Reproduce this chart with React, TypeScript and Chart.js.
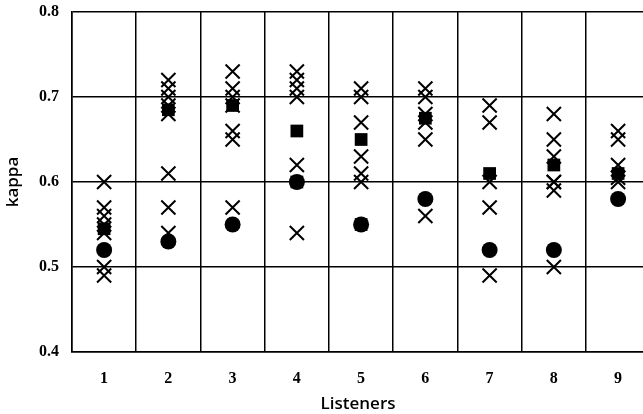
import React, { useEffect, useRef } from "react";
import { Chart, registerables } from "chart.js";

Chart.register(...registerables);

const listeners = [1, 2, 3, 4, 5, 6, 7, 8, 9];
const xTickLabels = ["1", "2", "3", "4", "5", "6", "7", "8", "9"];
const yTicks = [0.4, 0.5, 0.6, 0.7, 0.8];

const crossValues: number[][] = [
  [0.6, 0.57, 0.56, 0.55, 0.54, 0.5, 0.49],
  [0.72, 0.71, 0.7, 0.69, 0.68, 0.61, 0.57, 0.54],
  [0.73, 0.71, 0.7, 0.69, 0.66, 0.65, 0.57],
  [0.73, 0.72, 0.71, 0.7, 0.62, 0.54],
  [0.71, 0.7, 0.67, 0.63, 0.61, 0.6],
  [0.71, 0.7, 0.68, 0.67, 0.65, 0.56],
  [0.69, 0.67, 0.6, 0.57, 0.49],
  [0.68, 0.65, 0.63, 0.6, 0.6, 0.59, 0.5],
  [0.66, 0.65, 0.62, 0.605, 0.6],
];

const squareValues: number[][] = [
  [0.545],
  [0.685],
  [0.69],
  [0.66, 0.6],
  [0.65, 0.55],
  [0.675],
  [0.61],
  [0.62],
  [0.61],
];

const circleValues: number[] = [0.52, 0.53, 0.55, 0.6, 0.55, 0.58, 0.52, 0.52, 0.58];

function toPoints(vals: number[][]) {
  const out: { x: number; y: number }[] = [];
  vals.forEach((arr, i) => arr.forEach((v) => out.push({ x: listeners[i], y: v })));
  return out;
}

export default function App() {
  const ref = useRef<HTMLCanvasElement>(null);
  useEffect(() => {
    document.body.style.margin = "0";
    document.body.style.overflow = "hidden";
    const ctx = ref.current!;
    const chart = new Chart(ctx, {
      type: "scatter",
      data: {
        datasets: [
          {
            label: "circles",
            data: circleValues.map((v, i) => ({ x: listeners[i], y: v })),
            pointStyle: "circle",
            pointRadius: 8,
            backgroundColor: "#000",
            borderColor: "#000",
            borderWidth: 0,
          },
          {
            label: "squares",
            data: toPoints(squareValues),
            pointStyle: "rect",
            pointRadius: 9,
            backgroundColor: "#000",
            borderColor: "#000",
            borderWidth: 0,
          },
          {
            label: "crosses",
            data: toPoints(crossValues),
            pointStyle: "crossRot",
            pointRadius: 10,
            borderColor: "#000",
            backgroundColor: "#000",
            borderWidth: 2,
          },
        ],
      },
      options: {
        animation: false,
        responsive: false,
        maintainAspectRatio: false,
        layout: { padding: 0 },
        plugins: { legend: { display: false }, tooltip: { enabled: false } },
        scales: {
          x: {
            type: "linear",
            min: 0.5,
            max: 9.403,
            afterBuildTicks: (scale: any) => {
              scale.ticks = listeners.map((l) => ({ value: l - 0.5 }));
            },
            afterFit: (scale: any) => {
              scale.height = 62;
              scale.paddingLeft = 0;
              scale.paddingRight = 0;
            },
            grid: { color: "#000", lineWidth: 1.5, drawTicks: false },
            border: { color: "#000", width: 1.5 },
            ticks: {
              autoSkip: false,
              maxRotation: 0,
              padding: 17,
              labelOffset: 32.1,
              color: "#000",
              font: { family: "'Liberation Serif'", size: 16, weight: "bold" },
              callback: (_v: any, i: number) => xTickLabels[i],
            },
            title: {
              display: true,
              text: "Listeners",
              color: "#000",
              font: { family: "'Open Sans'", size: 17, weight: "600" },
              padding: { top: 0, bottom: 0 },
            },
          },
          y: {
            type: "linear",
            min: 0.4,
            max: 0.8,
            afterBuildTicks: (scale: any) => {
              scale.ticks = yTicks.map((v) => ({ value: v }));
            },
            afterFit: (scale: any) => {
              scale.width = 72;
              scale.paddingTop = 11;
              scale.paddingBottom = 0;
            },
            grid: { color: "#000", lineWidth: 1.5, drawTicks: false },
            border: { color: "#000", width: 1.5 },
            ticks: {
              padding: 13,
              color: "#000",
              font: { family: "'Liberation Serif'", size: 16, weight: "bold" },
              callback: (v: any) => Number(v).toFixed(1),
            },
            title: {
              display: true,
              text: "kappa",
              color: "#000",
              font: { family: "'Open Sans'", size: 17, weight: "600" },
              padding: { top: 3, bottom: 0 },
            },
          },
        },
      },
    });
    return () => chart.destroy();
  }, []);
  return (
    <div style={{ width: 643, height: 414, background: "#fff", overflow: "hidden" }}>
      <canvas ref={ref} width={656} height={414} style={{ display: "block" }} />
    </div>
  );
}
